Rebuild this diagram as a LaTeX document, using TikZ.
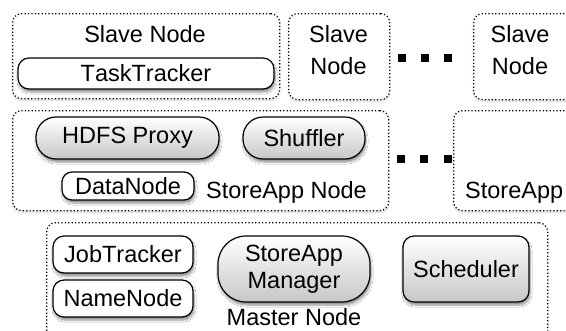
\documentclass[tikz,border=0pt]{standalone}
\usepackage{fontspec}
\setmainfont[Kerning=Off]{Liberation Sans}
\usetikzlibrary{shadows.blur}

\tikzset{
  % dotted machine boxes
  host/.style={draw, fill=white, line width=1.25pt, dash pattern=on 1.2pt off 2.2pt,
    rounded corners=9pt, anchor=north west, inner sep=0pt,
    blur shadow={shadow xshift=0pt, shadow yshift=-2pt, shadow opacity=15, shadow blur steps=6}},
  % plain daemons
  daemon/.style={draw, line width=1.2pt, fill=white, rounded corners=11pt,
    inner sep=0pt, font=\labelfont,
    blur shadow={shadow xshift=1pt, shadow yshift=-3pt, shadow opacity=45, shadow blur steps=6}},
  % shaded services
  service/.style={daemon, top color=white, bottom color=black!22},
  hostlabel/.style={anchor=base, inner sep=0pt, font=\labelfont},
  gap/.style={fill=black, minimum size=8pt, inner sep=0pt}
}
\newcommand\labelfont{\fontsize{23.5}{28}\selectfont}

\begin{document}
\begin{tikzpicture}[x=1pt, y=-1pt]
  \useasboundingbox (0,0) rectangle (566,330);
  \clip (0,0) rectangle (566,330);

  % Slave nodes
  \node[host, minimum width=267pt, minimum height=85pt] (slaveA) at (12,13) {};
  \node[host, minimum width=101pt, minimum height=86pt] (slaveB) at (288,13) {};
  \node[host, minimum width=110pt, minimum height=86pt] (slaveC) at (473,13) {};
  \node[hostlabel] (slaveAtxt) at (145,42) {Slave Node};
  \node[hostlabel, align=center] (slaveBtxt) at (338.5,74) {Slave\\[4pt]Node};
  \node[hostlabel, align=center] (slaveCtxt) at (520,74) {Slave\\[4pt]Node};
  \node[daemon, minimum width=256pt, minimum height=31pt] (tasktracker) at (146,73.5) {TaskTracker};

  \foreach \x [count=\i] in {402,425,448}
    \node[gap] (gapA\i) at (\x,58) {};

  % StoreApp nodes
  \node[host, minimum width=376pt, minimum height=100pt] (storeA) at (12,110) {};
  \node[host, minimum width=130pt, minimum height=100pt] (storeB) at (453,110) {};
  \node[service, rounded corners=20pt, minimum width=183pt, minimum height=42pt] (proxy) at (127.5,138) {HDFS Proxy};
  \node[service, rounded corners=20pt, minimum width=122pt, minimum height=42pt] (shuffler) at (304,138) {Shuffler};
  \node[daemon, rounded corners=10pt, minimum width=132pt, minimum height=28pt] (datanode) at (128,186) {DataNode};
  \node[hostlabel] (storeAtxt) at (286.5,198) {StoreApp Node};
  \node[hostlabel, anchor=base west] (storeBtxt) at (465,198) {StoreApp};

  \foreach \x [count=\i] in {401,424,448}
    \node[gap] (gapB\i) at (\x,159) {};

  % Master node
  \node[host, minimum width=501pt, minimum height=130pt] (master) at (46,222) {};
  \node[daemon, minimum width=140pt, minimum height=37pt] (jobtracker) at (123,254.5) {JobTracker};
  \node[daemon, minimum width=140pt, minimum height=37pt] (namenode) at (123,298.5) {NameNode};
  \node[service, rounded corners=28pt, minimum width=152pt, minimum height=66pt, align=center] (manager) at (294,269) {StoreApp\\[-1pt]Manager};
  \node[hostlabel] (mastertxt) at (294,325) {Master Node};
  \node[service, rounded corners=11pt, minimum width=126pt, minimum height=66pt] (scheduler) at (466,269) {Scheduler};
\end{tikzpicture}
\end{document}
